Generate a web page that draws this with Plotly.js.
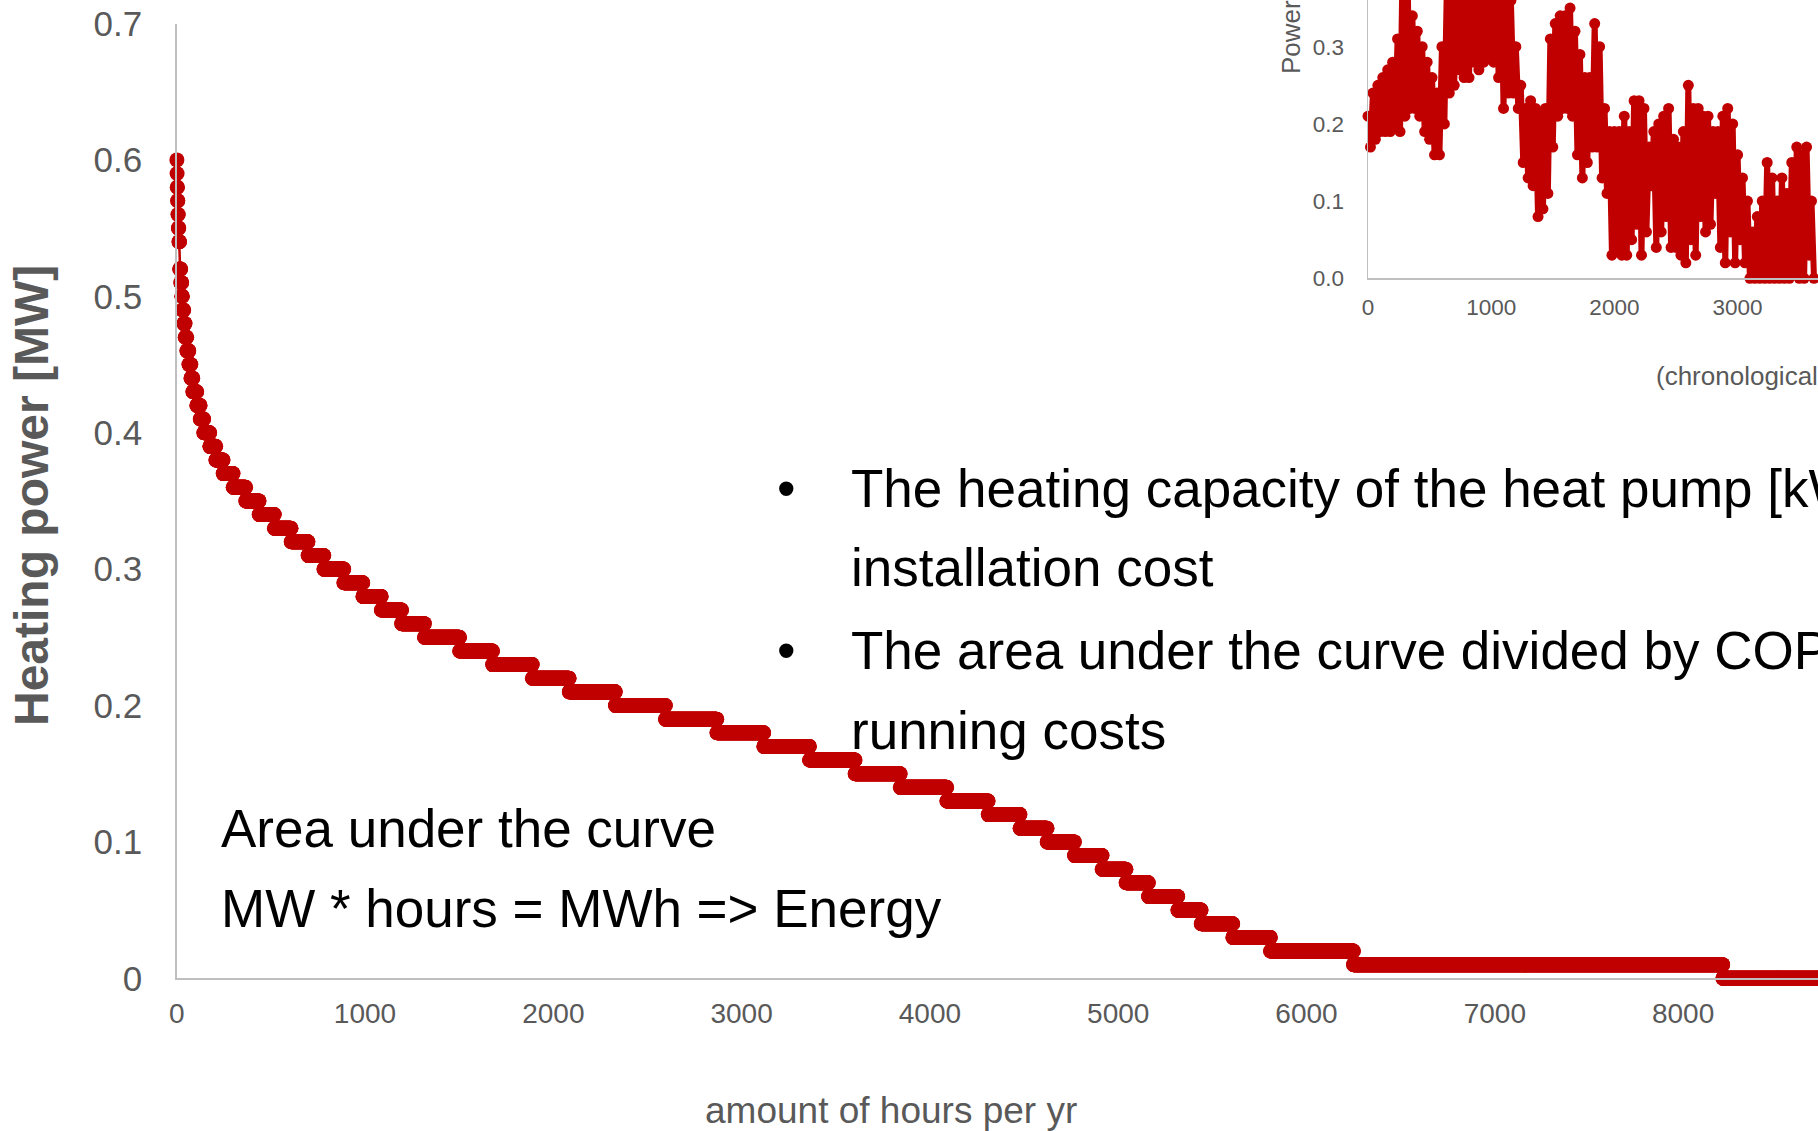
<!DOCTYPE html>
<html>
<head>
<meta charset="utf-8">
<script src="https://cdn.plot.ly/plotly-3.0.1.min.js"></script>
<style>
  html, body { margin:0; padding:0; overflow:hidden; background:#ffffff; width:1818px; height:1131px; }
  #chart { position:absolute; left:0; top:-300px; width:2600px; height:1431px; }
</style>
</head>
<body>
<div id="chart"></div>
<script>
// ---------- DATA ----------
// Load duration curve: each power level (MW) and the last hour (sorted) at which it occurs
const levelsMW = [0.60,0.59,0.58,0.57,0.56,0.55,0.54,0.52,0.51,0.50,0.49,0.48,0.47,0.46,0.45,0.44,0.43,0.42,0.41,0.40,
  0.39,0.38,0.37,0.36,0.35,0.34,0.33,0.32,0.31,0.30,0.29,0.28,0.27,0.26,0.25,0.24,0.23,0.22,0.21,0.20,
  0.19,0.18,0.17,0.16,0.15,0.14,0.13,0.12,0.11,0.10,0.09,0.08,0.07,0.06,0.05,0.04,0.03,0.02,0.01,0.00];
const lastHourOfLevel = [1,2,4,6,8,11,15,21,26,30,37,44,53,64,75,85,106,124,143,175,
  207,246,299,366,437,518,607,697,781,887,988,1086,1194,1315,1502,1677,1888,2084,2329,2595,
  2868,3117,3360,3602,3842,4089,4309,4478,4622,4767,4914,5041,5160,5316,5440,5608,5808,6249,8210,8760];

const mainXTicks = [0,1000,2000,3000,4000,5000,6000,7000,8000];
const mainYTicks = [0,0.1,0.2,0.3,0.4,0.5,0.6,0.7];

// Inset (chronological) power, sampled every 20 h: alternating local high / low readings
const insetStartHour = 0;
const insetStepHours = 20;
const insetPowerMW = [
  0.21,0.17, 0.24,0.18, 0.25,0.19, 0.26,0.19, 0.27,0.19, 0.28,0.20, 0.31,0.19, 0.40,0.21, 0.40,0.22, 0.34,0.22,
  0.32,0.21, 0.30,0.19, 0.28,0.18, 0.26,0.16, 0.24,0.16, 0.30,0.20, 0.38,0.24, 0.42,0.25, 0.42,0.27, 0.42,0.26,
  0.42,0.26, 0.40,0.28, 0.42,0.27, 0.42,0.28, 0.40,0.29, 0.42,0.28, 0.42,0.26, 0.40,0.22, 0.40,0.24, 0.36,0.24,
  0.30,0.22, 0.25,0.15, 0.22,0.13, 0.23,0.12, 0.22,0.08, 0.21,0.09, 0.22,0.11, 0.31,0.17, 0.33,0.21, 0.34,0.22,
  0.34,0.22, 0.35,0.21, 0.32,0.16, 0.29,0.13, 0.26,0.15, 0.26,0.17, 0.33,0.17, 0.30,0.13, 0.22,0.11, 0.19,0.03,
  0.19,0.04, 0.19,0.03, 0.21,0.03, 0.19,0.05, 0.23,0.07, 0.23,0.03, 0.22,0.06, 0.17,0.12, 0.19,0.04, 0.20,0.06,
  0.21,0.08, 0.22,0.04, 0.18,0.04, 0.17,0.03, 0.19,0.02, 0.25,0.05, 0.22,0.03, 0.22,0.08, 0.21,0.06, 0.21,0.07,
  0.19,0.11, 0.19,0.04, 0.21,0.02, 0.22,0.06, 0.20,0.02, 0.16,0.05, 0.13,0.02, 0.10,0.00, 0.06,0.00, 0.08,0.00,
  0.10,0.00, 0.15,0.00, 0.13,0.00, 0.10,0.00, 0.13,0.00, 0.11,0.00, 0.15,0.01, 0.17,0.00, 0.16,0.00, 0.17,0.03,
  0.10,0.00
];
const insetXTicks = [0,1000,2000,3000];
const insetYTicks = [0,0.1,0.2,0.3];

// ---------- build hourly duration curve from the level table ----------
const hours = [], power = [];
let h = 1;
for (let i = 0; i < levelsMW.length; i++) {
  for (; h <= lastHourOfLevel[i]; h++) { hours.push(h); power.push(levelsMW[i]); }
}

// ---------- layout helpers (page pixels -> paper fraction) ----------
const W = 2600, H = 1431, OFF = 300;
const fx = px => px / W;
const fy = py => 1 - (py + OFF) / H;

const RED = '#C00000';
const GREY = '#595959';
const AXIS = '#BFBFBF';
const FONT = 'Liberation Sans, Arial, Helvetica, sans-serif';

const traces = [
  {
    type: 'scatter', mode: 'lines+markers', cliponaxis: false,
    x: hours, y: power, xaxis: 'x', yaxis: 'y',
    line: { color: RED, width: 2.5 },
    marker: { color: RED, size: 15 },
    hoverinfo: 'skip', showlegend: false
  },
  {
    type: 'scatter', mode: 'lines+markers', cliponaxis: false,
    x0: insetStartHour, dx: insetStepHours, y: insetPowerMW, xaxis: 'x2', yaxis: 'y2',
    line: { color: RED, width: 6 },
    marker: { color: RED, size: 11 },
    hoverinfo: 'skip', showlegend: false
  }
];

function txt(text, xpx, ypx, size, opts) {
  return Object.assign({
    text: text, xref: 'paper', yref: 'paper', x: fx(xpx), y: fy(ypx),
    xanchor: 'left', yanchor: 'middle', showarrow: false,
    font: { family: FONT, size: size, color: '#000000' }
  }, opts || {});
}

const annotations = [
  txt('•', 786, 489, 53, { xanchor: 'center' }),
  txt('The heating capacity of the heat pump [kW]', 849, 489, 53),
  txt('installation cost', 849, 568, 53),
  txt('•', 786, 650, 53, { xanchor: 'center' }),
  txt('The area under the curve divided by COP', 849, 650, 53),
  txt('running costs', 849, 730, 53),
  txt('Area under the curve', 219, 828, 53),
  txt('MW * hours = MWh => Energy', 219, 908, 53),
  // main axis titles
  txt('<b>Heating power [MW]</b>', 31, 496, 48, { xanchor: 'center', textangle: -90, font: { family: FONT, size: 48, color: GREY } }),
  txt('amount of hours per yr', 891, 1110, 37, { xanchor: 'center', font: { family: FONT, size: 37, color: GREY } }),
  // inset axis titles
  txt('Power [MW]', 1291, 76, 26, { xanchor: 'center', yanchor: 'bottom', textangle: -90, font: { family: FONT, size: 26, color: GREY } }),
  txt('(chronological hours)', 1654, 376, 26, { font: { family: FONT, size: 26, color: GREY } })
];

const layout = {
  width: W, height: H,
  margin: { l: 0, r: 0, t: 0, b: 0, pad: 0 },
  paper_bgcolor: '#ffffff', plot_bgcolor: 'rgba(0,0,0,0)',
  showlegend: false,
  font: { family: FONT, color: GREY },
  xaxis: {
    domain: [fx(176.7), fx(176.7 + 1883)], range: [0, 10000],
    tickmode: 'array', tickvals: mainXTicks,
    showgrid: false, zeroline: false, showline: true, linecolor: AXIS, linewidth: 1.5,
    ticks: '', ticklabelstandoff: 10,
    tickfont: { family: FONT, size: 28, color: GREY }, anchor: 'y'
  },
  yaxis: {
    domain: [fy(978.3), fy(23.5)], range: [0, 0.7],
    tickmode: 'array', tickvals: mainYTicks,
    showgrid: false, zeroline: false, showline: true, linecolor: AXIS, linewidth: 1.5,
    ticks: '', ticklabelstandoff: 26,
    tickfont: { family: FONT, size: 35, color: GREY }, anchor: 'x'
  },
  xaxis2: {
    domain: [fx(1368), fx(1368 + 1254)], range: [0, 10000],
    tickmode: 'array', tickvals: insetXTicks,
    showgrid: false, zeroline: false, showline: true, linecolor: AXIS, linewidth: 1.5,
    ticks: '', ticklabelstandoff: 8,
    tickfont: { family: FONT, size: 22.5, color: GREY }, anchor: 'y2'
  },
  yaxis2: {
    domain: [fy(278.3), fy(278.3 - 540.4)], range: [0, 0.7],
    tickmode: 'array', tickvals: insetYTicks, tickformat: '.1f',
    showgrid: false, zeroline: false, showline: true, linecolor: AXIS, linewidth: 1.5,
    ticks: '', ticklabelstandoff: 18,
    tickfont: { family: FONT, size: 22.5, color: GREY }, anchor: 'x2'
  },
  annotations: annotations
};

Plotly.newPlot('chart', traces, layout, { staticPlot: true, displayModeBar: false });
</script>
</body>
</html>
